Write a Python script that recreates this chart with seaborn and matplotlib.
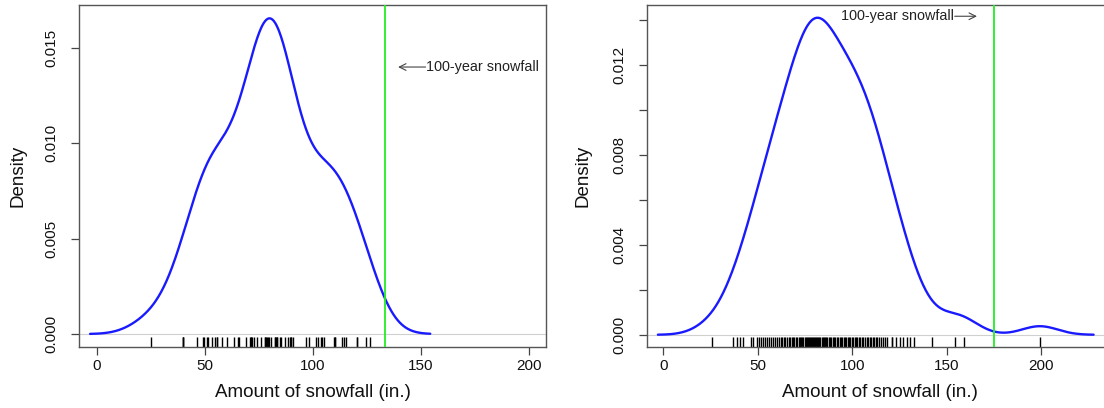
import numpy as np
import pandas as pd
import seaborn as sns
import matplotlib.pyplot as plt

# Buffalo seasonal snowfall (in.), 63 winters -- left panel
snow_short = [126.4, 82.4, 78.1, 51.1, 90.9, 76.2, 104.5, 87.4, 110.5, 25.0,
              69.3, 53.5, 39.8, 63.6, 46.7, 72.9, 79.6, 83.6, 80.7, 60.3,
              79.0, 74.4, 49.6, 54.7, 71.8, 49.1, 103.9, 51.6, 82.4, 83.6,
              77.8, 79.3, 89.6, 85.5, 58.0, 120.7, 110.5, 65.4, 39.9, 40.1,
              88.7, 71.4, 83.0, 55.9, 89.9, 84.8, 105.2, 113.7, 124.7, 114.5,
              115.6, 102.4, 101.4, 89.8, 71.5, 70.9, 98.3, 55.5, 66.1, 78.4,
              120.5, 97.0, 110.0]

# longer record -- right panel (read off the rug, dense band estimated)
snow_long = [25.6, 37.1, 38.9, 40.6, 42.1, 46.3,
             47.7, 49.8, 50.7, 51.8,
             52.9, 54.1, 55.0, 56.0, 56.9,
             58.0, 59.1, 60.2, 61.2, 62.1,
             62.9, 63.7, 64.6, 65.4, 66.3, 67.1,
             67.9, 68.6, 69.4, 70.1, 70.9, 71.6, 72.3,
             72.9, 73.5, 74.1, 74.8, 75.4, 76.0, 76.6, 77.2,
             77.8, 78.3, 78.8, 79.4, 79.9, 80.4, 80.9, 81.5, 82.0,
             82.6, 83.2, 83.8, 84.4, 85.0, 85.7, 86.3, 86.9,
             87.6, 88.3, 89.0, 89.7, 90.4, 91.1, 91.9,
             92.6, 93.3, 94.0, 94.8, 95.5, 96.2, 96.9,
             97.7, 98.4, 99.1, 99.9, 100.6, 101.3, 102.0,
             102.8, 103.6, 104.4, 105.2, 106.0, 106.8,
             107.6, 108.4, 109.2, 110.0, 110.8, 111.6,
             112.5, 113.4, 114.3, 115.2, 116.2, 117.2, 118.6,
             121.0, 121.3, 123.1, 125.4, 126.8, 128.9, 130.7, 132.8,
             142.2, 154.5, 159.3, 199.4]

hundred_year = [133.4, 175.2]
x_ticks = [0, 50, 100, 150, 200]
y_ticks_short = [0.0, 0.005, 0.010, 0.015]
y_labels_short = ["0.000", "0.005", "0.010", "0.015"]
y_ticks_long = [0.0, 0.002, 0.004, 0.006, 0.008, 0.010, 0.012, 0.014]
y_labels_long = ["0.000", "", "0.004", "", "0.008", "", "0.012", ""]
label_text = "100-year snowfall"


def nrd0_factor(values):
    """R's default bandwidth, as a factor of the sd for gaussian_kde."""
    v = np.asarray(values)
    sd = v.std(ddof=1)
    q75, q25 = np.percentile(v, [75, 25])
    bw = 0.9 * min(sd, (q75 - q25) / 1.34) * len(v) ** -0.2
    return bw / sd


sns.set_style("ticks")
plt.rcParams['font.family'] = ['Liberation Sans', 'DejaVu Sans']

fig = plt.figure(figsize=(11.04, 4.08), dpi=100)
ax1 = fig.add_axes([79 / 1104, 61 / 408, 467 / 1104, 342 / 408])
ax2 = fig.add_axes([647.3 / 1104, 61 / 408, 465.4 / 1104, 342 / 408])

panels = [
    (ax1, snow_short, hundred_year[0], (-8.1, 207.9), (-0.00068, 0.01724),
     y_ticks_short, y_labels_short, -0.1306),
    (ax2, snow_long, hundred_year[1], (-8.5, 238.0), (-0.000543, 0.01466),
     y_ticks_long, y_labels_long, -0.138),
]

for ax, data, vline, xlim, ylim, yt, yl, ylab_x in panels:
    df = pd.DataFrame({"snow": data})
    ax.axhline(0, color="#d0d0d0", lw=0.8, zorder=1)
    sns.kdeplot(data=df, x="snow", bw_method=nrd0_factor(data), cut=3,
                gridsize=512, color="#1a1aff", lw=1.7, ax=ax, zorder=3)
    sns.rugplot(data=df, x="snow", height=0.03, color="black", lw=0.9,
                ax=ax, zorder=2)
    ax.axvline(vline, color="#22ee22", lw=1.3, zorder=4)

    ax.set_xlim(*xlim)
    ax.set_ylim(*ylim)
    ax.set_xticks(x_ticks)
    ax.set_yticks(yt)
    ax.set_yticklabels(yl)
    for lab in ax.get_yticklabels():
        lab.set_rotation(90)
        lab.set_va("center")

    ax.tick_params(axis="both", direction="out", length=6, width=0.9,
                   color="#444444", labelsize=11, labelcolor="#111111")
    ax.tick_params(axis="y", pad=9)
    ax.tick_params(axis="x", pad=3)
    for sp in ax.spines.values():
        sp.set_visible(True)
        sp.set_color("#555555")
        sp.set_linewidth(1.0)

    ax.set_xlabel("Amount of snowfall (in.)", fontsize=13.5, color="#111111")
    ax.set_ylabel("Density", fontsize=13.5, color="#111111")
    ax.xaxis.set_label_coords(0.5, -0.1345)
    ax.xaxis.label.set_va("center")
    ax.yaxis.set_label_coords(ylab_x, 0.5)
    ax.yaxis.label.set_va("center")

# annotations
arrow = dict(arrowstyle="->", color="#444444", lw=0.8, shrinkA=0, shrinkB=0,
             mutation_scale=12)
ax1.annotate("", xy=(139.5, 0.01399), xytext=(152.2, 0.01399), arrowprops=arrow)
ax1.text(152.6, 0.01399, label_text, ha="left", va="center", fontsize=10.4,
         color="#222222")
ax2.annotate("", xy=(166.1, 0.01416), xytext=(154.3, 0.01416), arrowprops=arrow)
ax2.text(154.0, 0.01416, label_text, ha="right", va="center", fontsize=10.4,
         color="#222222")

fig.savefig("out.png", dpi=100)
